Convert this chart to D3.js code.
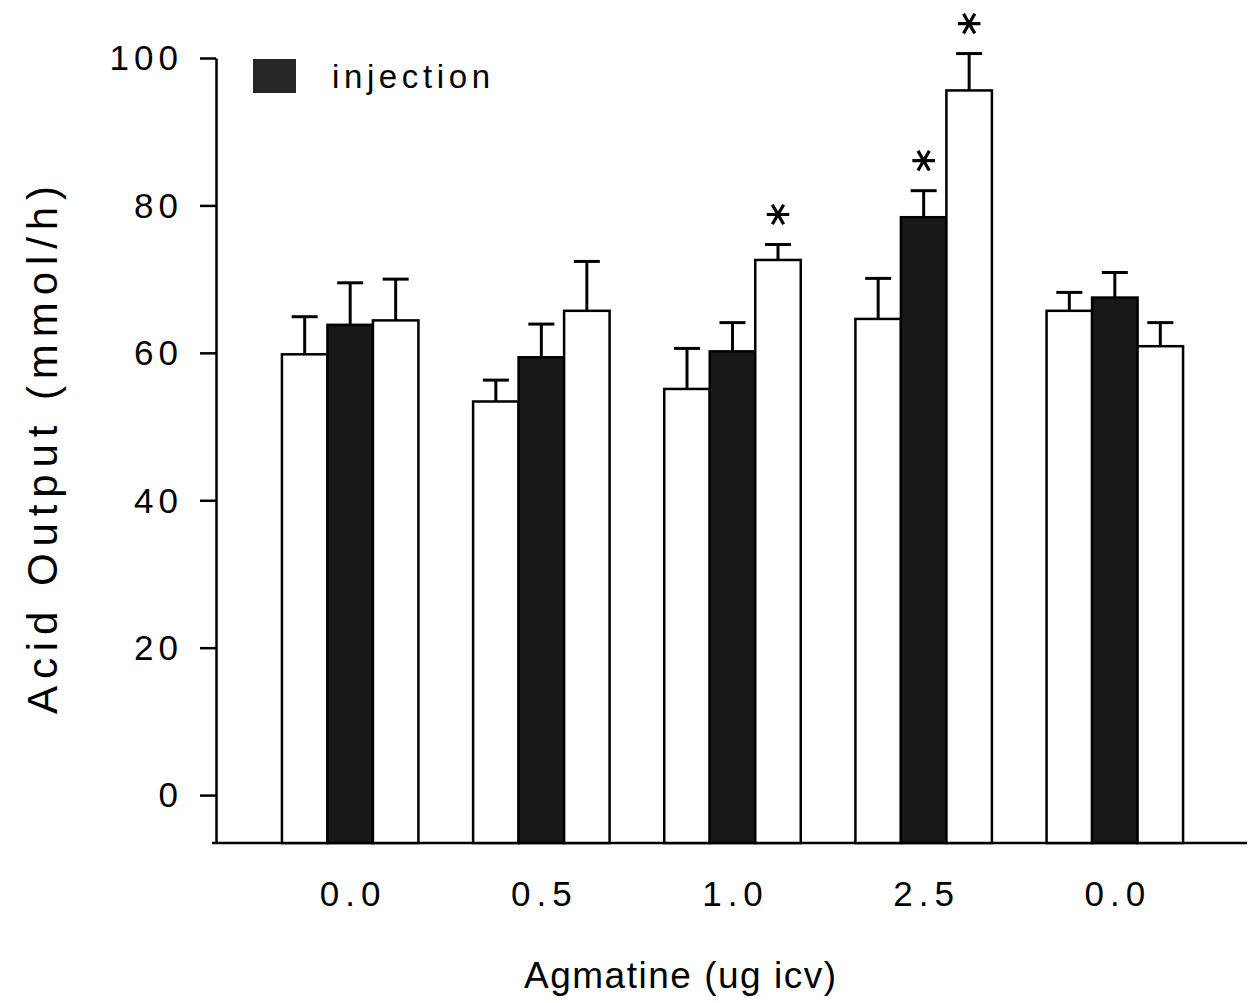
<!DOCTYPE html>
<html>
<head>
<meta charset="utf-8">
<script src="https://cdn.jsdelivr.net/npm/d3@7"></script>
<style>
  html, body { margin: 0; padding: 0; background: #fff; }
  svg { display: block; }
  text { font-family: "Liberation Sans", Arial, Helvetica, sans-serif; fill: #000; }
</style>
</head>
<body>
<svg id="chart" width="1251" height="1003"></svg>
<script>
// ---- data ----
const groupLabels = ["0.0", "0.5", "1.0", "2.5", "0.0"];
const seriesNames = ["before", "injection", "after"];
const beforeValues    = [59.8, 53.4, 55.1, 64.6, 65.7];
const beforeErrors    = [5.1, 2.9, 5.5, 5.5, 2.5];
const injectionValues = [63.8, 59.4, 60.2, 78.4, 67.5];
const injectionErrors = [5.7, 4.5, 3.9, 3.6, 3.4];
const afterValues     = [64.4, 65.7, 72.6, 95.6, 60.9];
const afterErrors     = [5.6, 6.7, 2.1, 5.0, 3.2];
const injectionSignif = [false, false, false, true, false];
const afterSignif     = [false, false, true, true, false];
const beforeSignif    = [false, false, false, false, false];
const yTicks = [0, 20, 40, 60, 80, 100];
const yTitle = "Acid Output (mmol/h)";
const xTitle = "Agmatine (ug icv)";
const legendLabel = "injection";

const seriesValues = [beforeValues, injectionValues, afterValues];
const seriesErrors = [beforeErrors, injectionErrors, afterErrors];
const seriesSignif = [beforeSignif, injectionSignif, afterSignif];
const seriesFill = ["#ffffff", "#181818", "#ffffff"];

const rows = [];
groupLabels.forEach((g, gi) => {
  seriesNames.forEach((s, si) => {
    rows.push({ gi, si, value: seriesValues[si][gi], err: seriesErrors[si][gi], sig: seriesSignif[si][gi] });
  });
});

// ---- scales ----
const svg = d3.select("#chart");
const axisX = 216, axisBottom = 843, axisRight = 1247;

const y = d3.scaleLinear().domain([-6.5, 100]).range([843, 58]);
const x0 = d3.scaleBand().domain(d3.range(groupLabels.length))
  .range([254.6, 1210.4]).paddingInner(0.286).paddingOuter(0.143);
const x1 = d3.scaleBand().domain(d3.range(seriesNames.length))
  .range([0, x0.bandwidth()]).padding(0);

// ---- axes ----
const yAxis = d3.axisLeft(y).tickValues(yTicks).tickSize(16).tickSizeOuter(0).tickPadding(22);
const gy = svg.append("g").attr("transform", `translate(${axisX},0)`).call(yAxis);
gy.select(".domain").attr("stroke", "#000").attr("stroke-width", 2.5);
gy.selectAll(".tick line").attr("stroke", "#000").attr("stroke-width", 2.5);
gy.selectAll(".tick text")
  .attr("font-size", 35).attr("letter-spacing", 5).attr("dx", 5).attr("dy", "0.34em")
  .style("font-family", "Liberation Sans, Arial, sans-serif");

// x axis line
svg.append("line").attr("x1", 212).attr("x2", axisRight)
  .attr("y1", axisBottom).attr("y2", axisBottom)
  .attr("stroke", "#000").attr("stroke-width", 2.5);

// x tick labels
svg.append("g").selectAll("text").data(groupLabels).join("text")
  .attr("x", (d, i) => x0(i) + x0.bandwidth() / 2 + 3)
  .attr("y", 906)
  .attr("text-anchor", "middle")
  .attr("font-size", 35).attr("letter-spacing", 6)
  .text(d => d);

// ---- bars ----
const bars = svg.append("g");
bars.selectAll("rect").data(rows).join("rect")
  .attr("x", d => x0(d.gi) + x1(d.si))
  .attr("width", x1.bandwidth())
  .attr("y", d => y(d.value))
  .attr("height", d => y(-6.5) - y(d.value))
  .attr("fill", d => seriesFill[d.si])
  .attr("stroke", "#000").attr("stroke-width", 2.5);

// error bars (upper only)
const capW = 26;
const eb = svg.append("g").attr("stroke", "#000").attr("stroke-width", 3);
eb.selectAll("line.v").data(rows).join("line").attr("class", "v")
  .attr("x1", d => x0(d.gi) + x1(d.si) + x1.bandwidth() / 2)
  .attr("x2", d => x0(d.gi) + x1(d.si) + x1.bandwidth() / 2)
  .attr("y1", d => y(d.value)).attr("y2", d => y(d.value + d.err));
eb.selectAll("line.c").data(rows).join("line").attr("class", "c")
  .attr("x1", d => x0(d.gi) + x1(d.si) + x1.bandwidth() / 2 - capW / 2)
  .attr("x2", d => x0(d.gi) + x1(d.si) + x1.bandwidth() / 2 + capW / 2)
  .attr("y1", d => y(d.value + d.err)).attr("y2", d => y(d.value + d.err));

// significance asterisks
const star = d3.symbol().type(d3.symbolAsterisk).size(360);
svg.append("g").selectAll("path").data(rows.filter(d => d.sig)).join("path")
  .attr("d", star)
  .attr("transform", d => `translate(${x0(d.gi) + x1(d.si) + x1.bandwidth() / 2},${y(d.value + d.err) - 30}) rotate(90)`)
  .attr("fill", "none").attr("stroke", "#000").attr("stroke-width", 3.2);

// ---- legend ----
svg.append("rect").attr("x", 253).attr("y", 59).attr("width", 43).attr("height", 34)
  .attr("fill", "#262626");
svg.append("text").attr("x", 332).attr("y", 88)
  .attr("font-size", 33).attr("textLength", 158).attr("lengthAdjust", "spacing")
  .text(legendLabel);

// ---- titles ----
svg.append("text").attr("x", 680).attr("y", 988).attr("text-anchor", "middle")
  .attr("font-size", 37).attr("textLength", 312).attr("lengthAdjust", "spacing")
  .text(xTitle);
svg.append("text")
  .attr("transform", "translate(57,450) rotate(-90)")
  .attr("text-anchor", "middle")
  .attr("font-size", 42).attr("textLength", 528).attr("lengthAdjust", "spacing")
  .text(yTitle);
</script>
</body>
</html>
